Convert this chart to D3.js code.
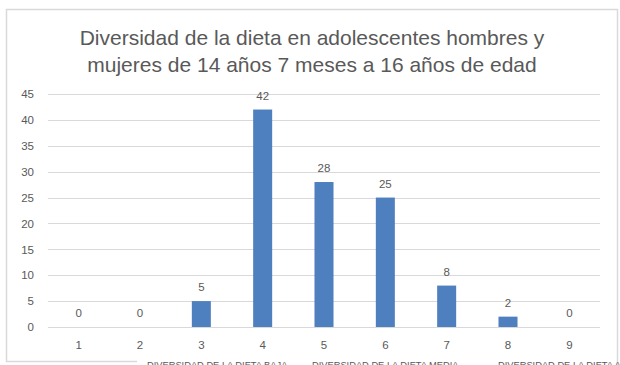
<!DOCTYPE html>
<html>
<head>
<meta charset="utf-8">
<script src="https://cdn.jsdelivr.net/npm/d3@7"></script>
<style>
  body { margin: 0; background: #fff; }
  text { font-family: "Liberation Sans", Arial, sans-serif; }
</style>
</head>
<body>
<svg></svg>
<script>
// datos del grafico
const categorias = ["1", "2", "3", "4", "5", "6", "7", "8", "9"];
const valores = [0, 0, 5, 42, 28, 25, 8, 2, 0];
const ticksY = [0, 5, 10, 15, 20, 25, 30, 35, 40, 45];
const titulo = ["Diversidad de la dieta en adolescentes hombres y",
                "mujeres de 14 años 7 meses a 16 años de edad"];
const etiquetasGrupo = ["DIVERSIDAD DE LA DIETA BAJA", "DIVERSIDAD DE LA DIETA MEDIA", "DIVERSIDAD DE LA DIETA ALTA"];

let svg = d3.select("svg").attr("width", 620).attr("height", 365);

const margenIzq = 48, margenDer = 600, margenSup = 94, margenInf = 327;

// marco
svg.append("path")
    .attr("d", "M137,361.5 L6.5,361.5 L6.5,9.5 L617.5,9.5 L617.5,365")
    .style("fill", "none")
    .style("stroke", "#d9d9d9")
    .style("stroke-width", 1.5);

// titulo
svg.append("g").selectAll("text").data(titulo).join("text")
    .attr("x", 312)
    .attr("y", (d, i) => 45 + i * 27)
    .attr("text-anchor", "middle")
    .style("font-size", "21px")
    .style("fill", "#595959")
    .text(d => d);

let x = d3.scaleBand().domain(categorias).range([margenIzq, margenDer]).paddingInner(0.69).paddingOuter(0.345);
let y = d3.scaleLinear().domain([0, 45]).range([margenInf, margenSup]);

// lineas de cuadricula
svg.append("g").selectAll("line").data(ticksY).join("line")
    .attr("x1", margenIzq)
    .attr("x2", margenDer)
    .attr("y1", d => Math.round(y(d)) + 0.5)
    .attr("y2", d => Math.round(y(d)) + 0.5)
    .style("stroke", "#d9d9d9")
    .style("stroke-width", 1);

// eje y
let ejeY = svg.append("g")
    .attr("transform", `translate(${margenIzq - 14},0)`)
    .call(d3.axisLeft(y).tickValues(ticksY).tickSize(0).tickPadding(0));
ejeY.select(".domain").remove();
ejeY.selectAll("text")
    .style("font-size", "11.5px")
    .style("fill", "#595959")
    .style("font-family", "'Liberation Sans', Arial, sans-serif");

// eje x
let ejeX = svg.append("g")
    .attr("transform", `translate(0,${margenInf + 14})`)
    .call(d3.axisBottom(x).tickSize(0).tickPadding(0));
ejeX.select(".domain").remove();
ejeX.selectAll("text")
    .style("font-size", "11.5px")
    .style("fill", "#595959")
    .style("font-family", "'Liberation Sans', Arial, sans-serif");

// barras
svg.append("g").selectAll("rect").data(valores).join("rect")
    .attr("x", (d, i) => x(categorias[i]))
    .attr("y", d => y(d))
    .attr("width", x.bandwidth())
    .attr("height", d => margenInf - y(d))
    .style("fill", "#4e7fbf");

// etiquetas de datos
svg.append("g").selectAll("text").data(valores).join("text")
    .attr("x", (d, i) => x(categorias[i]) + x.bandwidth() / 2)
    .attr("y", d => y(d) - 10)
    .attr("text-anchor", "middle")
    .style("font-size", "11.5px")
    .style("fill", "#595959")
    .text(d => d);

// etiquetas de grupo (cortadas abajo, como en el original)
const gruposX = [147, 312, 498];
svg.append("g").selectAll("text").data(etiquetasGrupo).join("text")
    .attr("x", (d, i) => gruposX[i])
    .attr("y", 368)
    .style("font-size", "9.3px")
    .style("fill", "#595959")
    .text(d => d);
</script>
</body>
</html>
